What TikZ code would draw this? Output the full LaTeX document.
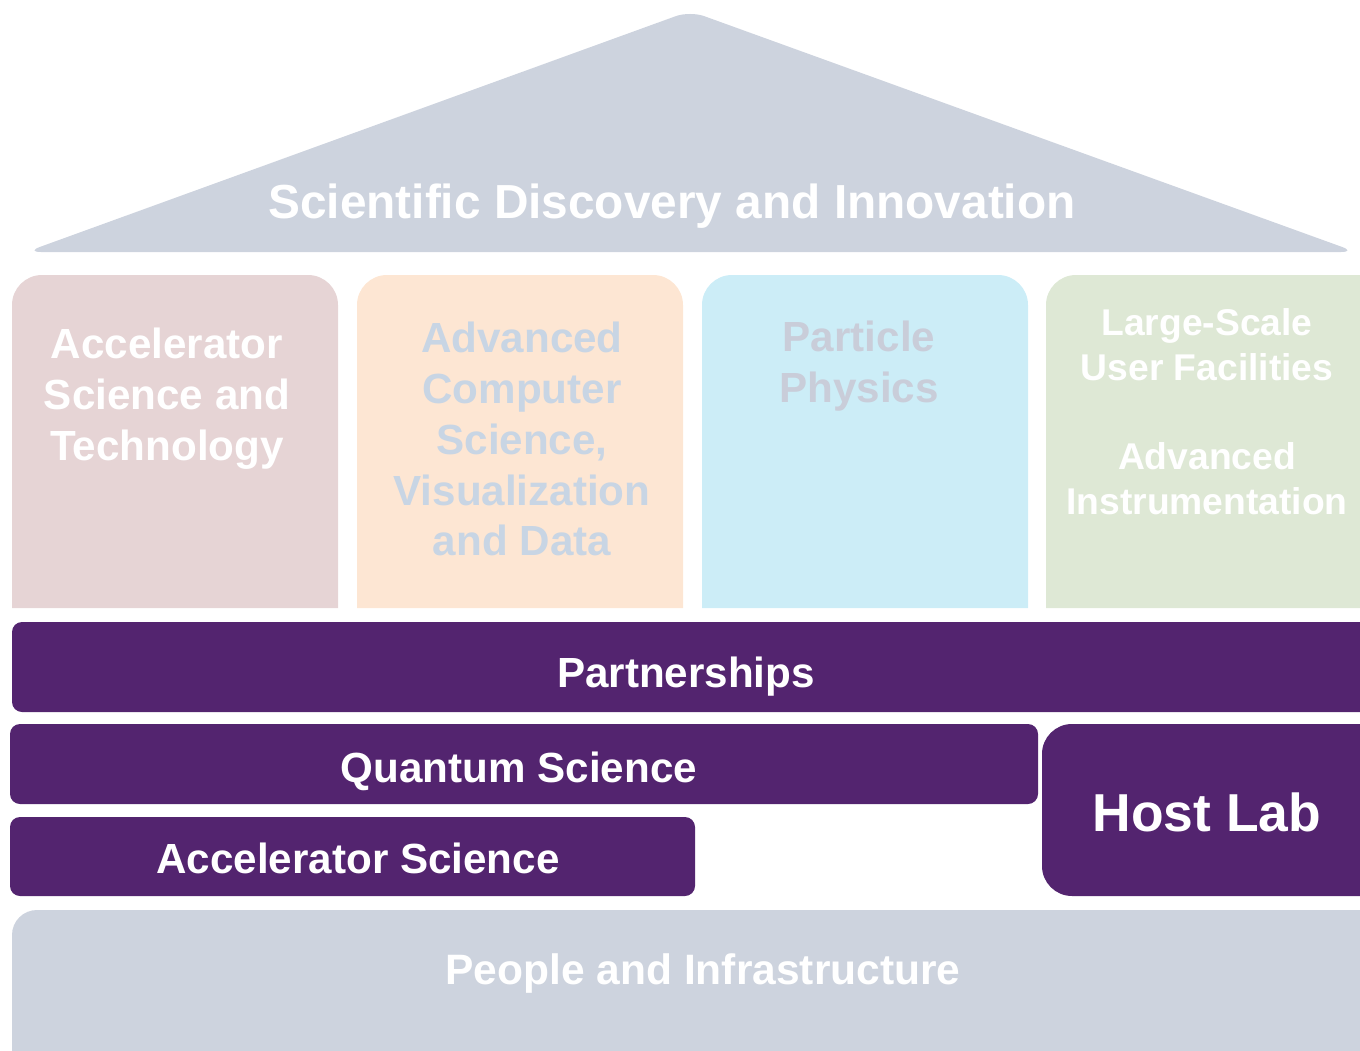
\documentclass[tikz,border=0pt]{standalone}
\usepackage{fontspec}
\setmainfont{Liberation Sans}
\usetikzlibrary{positioning}
\definecolor{roofgray}{HTML}{CDD3DE}
\definecolor{pillarrose}{HTML}{E6D4D5}
\definecolor{pillarpeach}{HTML}{FDE6D3}
\definecolor{pillarsky}{HTML}{CCEDF7}
\definecolor{pillarsage}{HTML}{DEE8D5}
\definecolor{labpurple}{HTML}{53246F}
\definecolor{paleblue}{HTML}{C8D5E4}
\definecolor{palegray}{HTML}{C9CDD9}

\begin{document}
\begin{tikzpicture}[
		x=0.02cm,y=-0.02cm,
		caption/.style={align=center,text=white,inner sep=0pt,
			font=\bfseries\fontsize{24}{29}\selectfont},
		smallcaption/.style={caption,font=\bfseries\fontsize{21.2}{25.6}\selectfont},
		band/.style={fill=labpurple,rounded corners=0.2cm},
		hostbox/.style={fill=labpurple,rounded corners=0.6cm},
		floor/.style={fill=roofgray,rounded corners=0.5cm}
	]
	\useasboundingbox (0,0) rectangle (1360,1051);
	\clip (0,0) rectangle (1360,1051);
	%
	% roof
	\fill[roofgray,rounded corners=0.3cm] (26,252) -- (690,11) -- (1356,252) -- cycle;
	\node[caption,font=\bfseries\fontsize{27.2}{32}\selectfont] (roof) at (672,206) {Scientific Discovery and Innovation};
	%
	% pillars (round top, square foot)
	\foreach \lft/\rgt/\col in {12/338/pillarrose,357/683/pillarpeach,702/1028/pillarsky,1046/1400/pillarsage}
		\fill[\col] (\lft,608) -- (\lft,400) [rounded corners=0.6cm] -- (\lft,275) -- (\rgt,275)
			-- (\rgt,400) [sharp corners] -- (\rgt,608) -- cycle;
	\node[caption]                 (accel_tech) at (167,399)  {Accelerator\\Science and\\Technology};
	\node[caption,text=paleblue]   (computing)  at (522,439)  {Advanced\\Computer\\Science,\\Visualization\\and Data};
	\node[caption,text=palegray]   (particle)   at (859,366)  {Particle\\Physics};
	\node[smallcaption]            (facilities) at (1207,345) {Large-Scale\\User Facilities};
	\node[smallcaption]            (instrument) at (1207,479) {Advanced\\Instrumentation};
	%
	% purple bands
	\fill[band]    (12,622)  rectangle (1400,712);
	\fill[band]    (10,724)  rectangle (1038,804);
	\fill[band]    (10,817)  rectangle (695,896);
	\fill[hostbox] (1042,724) rectangle (1420,896);
	\node[caption] (partner) at (686,677)  {Partnerships};
	\node[caption] (quantum) at (519,771)  {Quantum Science};
	\node[caption] (accel)   at (358,858)  {Accelerator Science};
	\node[caption,font=\bfseries\fontsize{30.4}{36}\selectfont] (host) at (1207,812) {Host Lab};
	%
	% foundation
	\fill[floor] (12,910) rectangle (1400,1100);
	\node[caption,font=\bfseries\fontsize{24.2}{29}\selectfont] (people) at (703,974) {People and Infrastructure};
\end{tikzpicture}
\end{document}
